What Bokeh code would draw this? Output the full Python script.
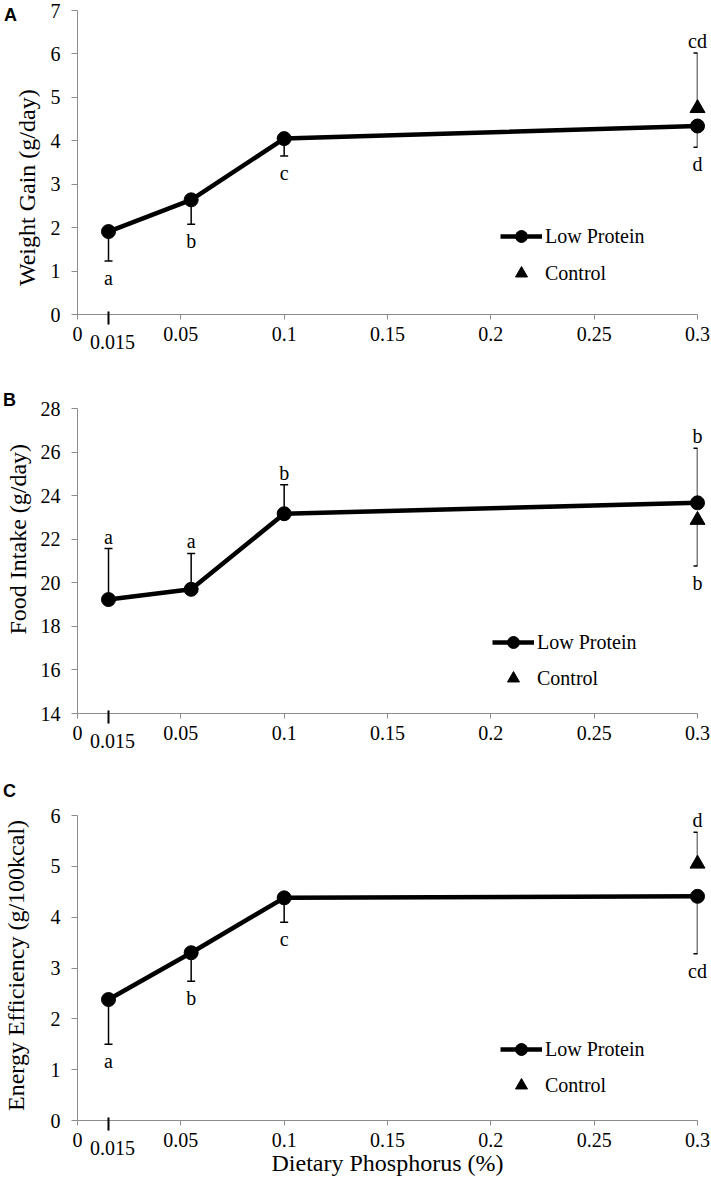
import numpy as np
from bokeh.plotting import figure
from bokeh.models import (ColumnDataSource, Whisker, TeeHead, Legend, LegendItem,
                          FixedTicker, Range1d)
from bokeh.layouts import column
from bokeh.embed import file_html
from bokeh.resources import INLINE
from bokeh.core.properties import value

# ---------------- data ----------------
phosphorus = [0.015, 0.055, 0.1, 0.3]          # dietary phosphorus (%) of the Low Protein diets
control_x = [0.3]
x_ticks = [0, 0.05, 0.1, 0.15, 0.2, 0.25, 0.3]
x_tick_labels = ["0", "0.05", "0.1", "0.15", "0.2", "0.25", "0.3"]
extra_tick_label = "0.015"
x_title = "Dietary Phosphorus (%)"
series_names = ["Low Protein", "Control"]

# Panel A: weight gain
wg_title = "Weight Gain (g/day)"
wg_ticks = [0, 1, 2, 3, 4, 5, 6, 7]
wg_lp = [1.91, 2.64, 4.05, 4.34]
wg_lp_err = [0.68, 0.56, 0.40, 0.49]
wg_ctrl = [4.75]
wg_ctrl_err = [1.27]
wg_lp_letters = ["a", "b", "c", "d"]
wg_ctrl_letters = ["cd"]

# Panel B: food intake
fi_title = "Food Intake (g/day)"
fi_ticks = [14, 16, 18, 20, 22, 24, 26, 28]
fi_lp = [19.23, 19.70, 23.17, 23.67]
fi_lp_err = [2.34, 1.65, 1.33, 2.51]
fi_ctrl = [22.88]
fi_ctrl_err = [2.11]
fi_lp_letters = ["a", "a", "b", "b"]
fi_ctrl_letters = ["b"]

# Panel C: energy efficiency
ee_title = "Energy Efficiency (g/100kcal)"
ee_ticks = [0, 1, 2, 3, 4, 5, 6]
ee_lp = [2.38, 3.30, 4.38, 4.41]
ee_lp_err = [0.88, 0.56, 0.48, 1.13]
ee_ctrl = [5.05]
ee_ctrl_err = [0.62]
ee_lp_letters = ["a", "b", "c", "cd"]
ee_ctrl_letters = ["d"]

SERIF = "Liberation Serif"
SANS = "Liberation Sans"
AXIS_GREY = "#8c8c8c"


def add_errorbars(p, xs, vals, errs, direction):
    if direction == "down":
        lower = [v - e for v, e in zip(vals, errs)]
        upper = list(vals)
    else:
        lower = list(vals)
        upper = [v + e for v, e in zip(vals, errs)]
    src = ColumnDataSource(dict(base=xs, lower=lower, upper=upper))
    head = TeeHead(size=8, line_width=1.5, line_color="black")
    w = Whisker(source=src, base="base", lower="lower", upper="upper", dimension="height",
                line_width=1.5, line_color="black",
                lower_head=head if direction == "down" else None,
                upper_head=head if direction == "up" else None,
                level="overlay")
    p.add_layout(w)
    return lower if direction == "down" else upper


def add_letters(p, xs, ends, letters, direction):
    off = 17 if direction == "down" else -12
    src = ColumnDataSource(dict(x=xs, y=ends, t=letters))
    p.text(x="x", y="y", text="t", source=src, text_font=value(SERIF),
           text_font_size="20px", text_align="center", text_baseline="middle",
           y_offset=off, text_color="black", level="overlay")


def make_panel(letter, ytitle, yticks, lp, lp_err, lp_dir, ctrl, ctrl_err, ctrl_dir,
               lp_letters, ctrl_letters, lay, show_xtitle=False):
    y0, y1 = yticks[0], yticks[-1]
    span = y1 - y0
    p = figure(width=711, height=lay["height"], x_range=Range1d(x_ticks[0], x_ticks[-1]),
               y_range=Range1d(y0, y1), output_backend="svg", toolbar_location=None,
               min_border_left=77, min_border_right=14,
               min_border_top=lay["top"], min_border_bottom=lay["bottom"])
    p.outline_line_color = None
    p.grid.visible = False
    p.background_fill_color = "white"
    p.border_fill_color = "white"

    xa = p.xaxis[0]
    xa.ticker = FixedTicker(ticks=x_ticks)
    xa.major_label_overrides = dict(zip(x_ticks, x_tick_labels))
    xa.minor_tick_line_color = None
    xa.major_tick_in = 0
    xa.major_tick_out = 5
    xa.major_label_standoff = 7
    xa.axis_line_color = AXIS_GREY
    xa.major_tick_line_color = AXIS_GREY
    xa.major_label_text_font = SERIF
    xa.major_label_text_font_size = "20px"
    xa.major_label_text_color = "black"
    if show_xtitle:
        xa.axis_label = x_title
        xa.axis_label_text_font = SERIF
        xa.axis_label_text_font_size = "24px"
        xa.axis_label_text_font_style = "normal"
        xa.axis_label_text_color = "black"
        xa.axis_label_standoff = 0

    ya = p.yaxis[0]
    ya.ticker = FixedTicker(ticks=yticks)
    ya.minor_tick_line_color = None
    ya.major_tick_in = 0
    ya.major_tick_out = 6
    ya.major_label_standoff = 11
    ya.axis_line_color = AXIS_GREY
    ya.major_tick_line_color = AXIS_GREY
    ya.major_label_text_font = SERIF
    ya.major_label_text_font_size = "20px"
    ya.major_label_text_color = "black"

    # y title (placed like the original, off-centre)
    p.text(x=[x_ticks[0]], y=[lay["ytitle_y"]], text=[ytitle], angle=np.pi / 2,
           x_offset=lay["ytitle_dx"], text_font=value(SERIF), text_font_size="24px",
           text_align="center", text_baseline="middle", text_color="black", level="overlay")

    # panel letter
    p.text(x=[x_ticks[0]], y=[y1], text=[letter], x_offset=lay["letter_dx"],
           y_offset=lay["letter_dy"], text_font=value(SANS), text_font_style="bold",
           text_font_size="18px", text_align="center", text_baseline="middle",
           text_color="black", level="overlay")

    # extra 0.015 tick mark and label
    p.segment(x0=[phosphorus[0]], y0=[y0 + 0.01 * span], x1=[phosphorus[0]],
              y1=[y0 - 0.033 * span], line_color="black", line_width=2, level="overlay")
    p.text(x=[phosphorus[0]], y=[y0], text=[extra_tick_label], x_offset=4, y_offset=27,
           text_font=value(SERIF), text_font_size="20px", text_align="center",
           text_baseline="middle", text_color="black", level="overlay")

    lp_ends = add_errorbars(p, phosphorus, lp, lp_err, lp_dir)
    ctrl_ends = add_errorbars(p, control_x, ctrl, ctrl_err, ctrl_dir)

    line_r = p.line(phosphorus, lp, line_width=4.5, line_color="black", level="overlay")
    circ_r = p.scatter(phosphorus, lp, marker="circle", size=14, color="black", level="overlay")
    tri_r = p.scatter(control_x, ctrl, marker="triangle", size=15, color="black", level="overlay")

    add_letters(p, phosphorus, lp_ends, lp_letters, lp_dir)
    add_letters(p, control_x, ctrl_ends, ctrl_letters, ctrl_dir)

    legend = Legend(items=[LegendItem(label=series_names[0], renderers=[line_r, circ_r]),
                           LegendItem(label=series_names[1], renderers=[tri_r])],
                    location=lay["legend"], orientation="vertical",
                    glyph_width=42, glyph_height=30, label_standoff=3,
                    spacing=lay["spacing"], padding=0, margin=0,
                    border_line_color=None, background_fill_alpha=0,
                    label_text_font=SERIF, label_text_font_size="20px",
                    label_text_color="black")
    p.add_layout(legend)
    return p


lay_a = dict(height=380, top=10, bottom=66, legend=(423, 26), spacing=7,
             ytitle_y=2.92, ytitle_dx=-51, letter_dx=-67, letter_dy=4)
lay_b = dict(height=396, top=28, bottom=63, legend=(415, 20), spacing=6,
             ytitle_y=22.0, ytitle_dx=-60, letter_dx=-68, letter_dy=-9)
lay_c = dict(height=412, top=39, bottom=68, legend=(423, 20), spacing=6,
             ytitle_y=3.05, ytitle_dx=-62, letter_dx=-68, letter_dy=-25)

pa = make_panel("A", wg_title, wg_ticks, wg_lp, wg_lp_err, "down", wg_ctrl, wg_ctrl_err, "up",
                wg_lp_letters, wg_ctrl_letters, lay_a)
pb = make_panel("B", fi_title, fi_ticks, fi_lp, fi_lp_err, "up", fi_ctrl, fi_ctrl_err, "down",
                fi_lp_letters, fi_ctrl_letters, lay_b)
pc = make_panel("C", ee_title, ee_ticks, ee_lp, ee_lp_err, "down", ee_ctrl, ee_ctrl_err, "up",
                ee_lp_letters, ee_ctrl_letters, lay_c, show_xtitle=True)

page = column(pa, pb, pc, spacing=0)
open("out.html", "w").write(file_html(page, INLINE))
